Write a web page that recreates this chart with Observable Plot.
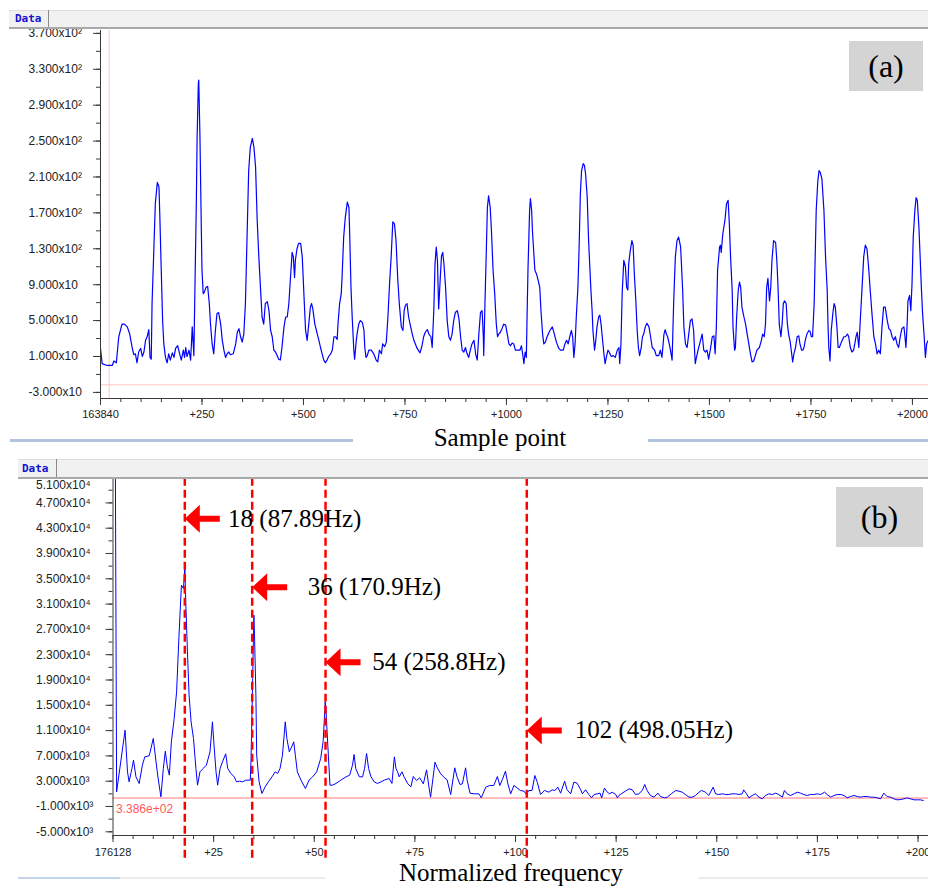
<!DOCTYPE html>
<html><head><meta charset="utf-8">
<script src="https://cdn.jsdelivr.net/npm/d3@7"></script>
<script src="https://cdn.jsdelivr.net/npm/@observablehq/plot@0.6"></script>
<style>
body{margin:0;background:#fff;}
#wrap{position:relative;width:928px;height:888px;overflow:hidden;background:#fff;}
#wrap svg{position:absolute;left:0;}
</style></head><body><div id="wrap"></div>
<script>
// ---------- Panel (a): time-domain waveform ----------
const sampleA = [0,4,16,29,33,39,45,53,59,66,72,78,82,86,90,94,99,103,107,111,115,119,122,125,127,131,135,140,144,146,149,153,156,160,164,168,172,177,181,185,190,195,199,204,207,210,213,218,222,226,230,232,236,238,241,242,245,248,250,253,256,260,264,268,271,275,279,283,287,291,296,300,304,308,312,316,320,327,333,337,341,345,349,353,357,361,365,369,374,378,382,386,390,394,398,402,406,411,415,419,423,427,431,435,439,443,447,452,456,460,464,468,472,475,478,480,484,488,493,497,501,505,
509,513,517,520,523,528,534,538,542,546,550,554,558,562,567,571,575,579,583,585,589,593,595,599,603,608,612,614,617,620,624,626,630,632,636,640,645,649,651,654,657,661,667,673,679,683,687,692,695,700,704,708,712,716,720,724,728,732,736,741,745,748,751,755,759,764,768,772,780,787,792,796,800,805,809,814,817,821,824,827,830,833,837,840,843,846,850,854,858,862,866,870,874,879,883,887,891,895,899,903,907,911,915,920,924,928,932,936,940,943,944,947,950,953,956,960,963,967,971,975,978,981,985,989,993,998,1002,1006,1010,1014,1018,1022,
1026,1033,1037,1041,1043,1046,1049,1051,1053,1057,1059,1062,1064,1067,1070,1074,1078,1082,1085,1089,1092,1096,1100,1107,1113,1118,1123,1129,1133,1140,1144,1148,1152,1156,1160,1163,1166,1169,1172,1176,1179,1182,1185,1189,1192,1195,1199,1202,1205,1208,1211,1213,1217,1220,1223,1227,1230,1233,1236,1240,1243,1246,1250,1253,1258,1263,1268,1273,1277,1279,1282,1285,1289,1293,1296,1299,1301,1305,1309,1312,1315,1319,1322,1325,1328,1332,1335,1338,1342,1346,1351,1355,1359,1365,1369,1375,1379,1383,1388,1391,1394,1397,1401,1404,1408,1412,1416,1420,1424,1429,1431,1434,1437,1441,1445,1449,1453,1457,1461,1465,1468,1472,1478,1482,1486,1490,1494,1498,1502,1507,1511,1514,1517,1520,1525,1527,
1529,1533,1538,1542,1546,1549,1552,1556,1558,1562,1564,1567,1571,1574,1577,1580,1585,1589,1593,1597,1601,1605,1609,1613,1617,1623,1628,1631,1635,1638,1641,1644,1648,1651,1654,1658,1663,1666,1669,1672,1676,1679,1682,1685,1689,1692,1695,1699,1702,1705,1708,1712,1716,1720,1723,1727,1730,1733,1736,1740,1745,1748,1751,1754,1758,1761,1763,1767,1770,1773,1777,1782,1786,1790,1792,1794,1797,1800,1804,1807,1810,1814,1817,1820,1825,1831,1835,1840,1843,1847,1851,1855,1858,1861,1864,1868,1872,1876,1880,1884,1888,1892,1896,1901,1905,1909,1913,1917,1921,1925,1929,1933,1938,1942,1946,1950,1954,1958,1962,1966,1970,1974,1979,1981,1984,1987,1989,1993,1996,1999,2002,2006,2009,2012,2016,2019,2022,2025,2029,2032,2035,2039];
const valueA = [19,2,0,0,5,3,32,46,46,43,35,20,12,13,3,15,19,10,15,28,32,40,9,7,69,124,180,204,199,169,117,50,24,9,3,13,6,14,9,19,22,13,6,17,9,20,10,17,6,43,11,69,180,254,314,318,254,162,106,80,82,87,88,69,46,24,13,39,58,59,46,28,17,9,13,15,12,13,24,37,41,32,26,35,69,143,217,243,253,243,221,162,121,87,54,46,69,71,61,39,32,17,15,11,7,6,20,43,54,54,69,98,126,121,98,117,130,136,136,121,80,40,
28,46,65,69,63,46,35,28,20,13,6,3,6,10,13,17,32,32,29,46,69,80,98,143,165,182,176,143,87,54,17,7,28,35,46,50,48,39,20,9,11,17,17,13,6,4,17,13,24,21,26,54,91,121,160,158,139,98,69,43,39,61,67,69,54,43,35,28,19,14,22,32,37,40,35,32,20,61,113,132,117,63,98,122,126,113,87,50,32,28,35,50,59,61,52,32,17,15,20,13,9,17,24,28,13,6,35,59,61,32,11,69,121,176,189,176,150,106,80,46,32,35,37,41,46,45,35,24,22,25,24,17,
17,17,22,9,2,15,9,61,106,173,186,173,150,128,106,102,95,87,61,35,24,26,32,39,43,35,26,19,17,17,24,28,24,32,39,32,9,24,54,87,132,191,217,225,223,213,187,143,113,84,61,39,17,28,43,54,56,46,32,13,2,9,17,15,10,11,9,17,20,2,24,80,117,110,87,84,113,128,139,134,102,69,39,20,11,20,32,35,43,47,43,32,20,17,11,11,17,9,35,40,35,32,24,17,6,72,121,139,143,132,113,84,43,24,20,35,50,52,39,2,9,17,28,35,17,15,17,7,17,32,33,13,43,106,132,134,
126,147,161,180,184,158,121,84,43,17,20,54,84,93,87,65,54,46,35,24,13,4,5,11,17,20,28,35,32,46,87,97,72,87,117,139,137,117,87,46,32,46,69,72,69,46,35,26,15,4,13,20,32,33,24,17,17,20,28,35,39,38,32,32,69,132,173,206,217,215,208,173,121,84,46,20,5,39,58,69,65,43,20,20,26,32,32,35,32,20,15,17,24,32,37,20,54,87,121,134,130,110,84,54,32,24,13,17,13,43,65,65,50,41,39,32,28,32,24,20,32,41,43,35,20,46,72,78,61,91,143,173,187,184,154,121,87,58,32,9,24,28];
const xTicksA = [0,250,500,750,1000,1250,1500,1750,2000];
const xTickLabelsA = ["163840","+250","+500","+750","+1000","+1250","+1500","+1750","+2000"];
const yTicksA = [370,330,290,250,210,170,130,90,50,10,-30];
const yTickLabelsA = ["3.700x10²","3.300x10²","2.900x10²","2.500x10²","2.100x10²","1.700x10²","1.300x10²","9.000x10","5.000x10","1.000x10","-3.000x10"];
const cursorSampleA = [21.4];
const cursorValueA = [-21.5];

// ---------- Panel (b): spectrum ----------
const specIdx = [0,0.9,3.0,3.6,4.0,4.7,5.1,5.7,6.5,7.3,7.9,9.0,10.0,10.5,11.1,11.9,12.5,13.0,13.5,14.0,14.5,15.2,15.8,16.4,17.0,17.5,17.85,18.1,18.5,18.9,19.4,20.0,20.6,21.0,21.6,22.4,23.2,24.1,24.7,25.1,25.6,26.0,26.6,27.2,28.0,28.5,29.3,30.1,30.7,31.4,32.2,33.0,34.1,34.3,34.7,35.0,35.2,35.5,35.7,36.3,37.0,37.8,38.6,39.5,40.3,40.9,41.5,42.1,42.8,43.2,43.8,44.4,44.9,45.3,45.8,46.7,47.8,48.7,49.6,50.6,51.6,52.2,52.6,52.7,52.9,53.1,53.5,53.9,54.5,55.4,56.6,57.9,58.8,59.5,59.9,60.3,61.2,62.0,62.5,63.0,63.5,64.1,64.9,65.7,66.6,67.4,68.6,69.3,69.9,70.3,70.7,71.1,71.8,72.3,73.2,74.0,
74.6,75.4,76.2,77.1,77.9,78.5,78.9,80.0,80.5,81.4,82.2,83.0,83.9,84.9,85.5,86.2,86.8,87.6,88.0,88.7,89.7,90.9,91.5,92.6,93.6,94.6,95.5,96.1,96.7,97.5,98.1,98.8,99.6,100.4,101.2,102.1,102.7,103.3,104.1,104.8,105.4,106.2,107.2,108.3,109.1,109.8,110.5,111.2,112.2,112.8,113.7,114.5,115.3,116.2,116.6,117.4,118.2,118.9,119.5,120.3,121.0,121.4,122.1,122.8,123.4,124.0,124.9,125.3,125.7,126.5,127.3,128.2,129.0,129.8,130.6,131.5,132.1,132.7,133.5,134.4,135.4,136.0,137.0,137.7,138.7,139.8,140.6,141.4,142.2,143.1,143.9,144.7,145.6,146.2,147.2,148.0,149.1,149.7,150.5,151.4,152.2,153.0,153.8,154.7,155.5,156.3,156.7,157.4,158.0,158.8,159.6,160.5,161.3,162.1,162.9,163.8,164.6,165.4,166.3,166.8,167.5,168.3,169.2,170.0,170.8,171.6,172.5,173.3,174.1,175.0,175.8,176.8,177.4,178.3,179.1,179.9,180.8,181.6,182.4,183.2,184.1,184.9,185.7,186.5,187.4,188.2,189.0,189.9,190.7,191.5,192.3,193.2,194.0,194.8,195.7,196.5,197.3,198.1,199.0,199.8,200.6,201.3];
const specVal = [150000,1319,11069,4481,2900,5008,6326,3690,2636,5535,6853,7011,9751,7116,3954,528,5008,7748,5271,3954,9224,12913,17129,26088,33993,33466,36892,30831,23453,16602,12386,9751,5008,2373,4481,5008,5535,7643,12386,8697,4481,2373,5008,6062,7327,5008,4217,3690,2900,3005,2900,3163,3163,6589,19237,29250,25034,16602,7116,2900,1055,2109,2900,3690,4481,4217,5008,7116,12386,9751,7643,8433,9224,7116,4481,3163,1846,3163,3690,4481,6589,9224,13967,15548,14494,11859,7116,2373,2373,2636,3163,3690,3954,5535,7221,5008,3690,3690,5008,7379,5008,3690,2900,2636,2900,3163,3427,2636,6853,5008,4481,3690,4481,3690,2636,2109,
3743,3111,3533,2584,4797,2057,476,6010,5219,4165,3638,3217,898,5114,3638,2479,2584,5114,3111,1108,1003,1003,371,2057,2320,2320,3743,2320,3217,4587,2584,1003,2320,1952,1530,1425,898,1530,1530,3902,2848,898,1530,1267,1635,1530,2057,1108,3006,1635,1003,2848,2689,1635,1003,1635,898,371,898,1003,1108,371,1899,1267,1003,1267,898,371,739,1108,1425,1794,1635,898,1003,1530,2479,1530,739,476,1108,581,371,476,1003,1530,1425,1267,898,476,476,739,1267,1530,1267,739,2057,1003,898,1003,898,898,1003,1003,898,1003,1635,1003,371,739,1003,476,213,739,1003,898,1108,898,476,1530,1003,739,1003,1267,1108,898,739,898,898,1003,898,1267,898,476,739,898,898,739,371,581,739,581,476,581,581,476,476,371,213,1108,581,476,213,54,107,213,371,213,54,54,54,-51];
const xTicksB = [0,25,50,75,100,125,150,175,200];
const xTickLabelsB = ["176128","+25","+50","+75","+100","+125","+150","+175","+200"];
const yTicksB = [51000,47000,43000,39000,35000,31000,27000,23000,19000,15000,11000,7000,3000,-1000,-5000];
const yTickLabelsB = ["5.100x10⁴","4.700x10⁴","4.300x10⁴","3.900x10⁴","3.500x10⁴","3.100x10⁴","2.700x10⁴","2.300x10⁴","1.900x10⁴","1.500x10⁴","1.100x10⁴","7.000x10³","3.000x10³","-1.000x10³","-5.000x10³"];
const refLevelB = [338.6];
const refLabelB = ["3.386e+02"];

// harmonic annotations
const peakLabels = ["18 (87.89Hz)","36 (170.9Hz)","54 (258.8Hz)","102 (498.05Hz)"];
const markerX = [17.84,34.58,52.8,102.8];
const arrowY = [44486,33671,21814,11016];
const labelX = [28.6,48.4,64.4,114.7];

// ---------- build ----------
const A = sampleA.map((s,i)=>({s, v: valueA[i]}));
const B = specIdx.map((x,i)=>({x, v: specVal[i]}));
const ann = peakLabels.map((t,i)=>({t, x: markerX[i], y: arrowY[i], lx: labelX[i]}));

const axisColor = "#3a3a3a";
const tickFont = "'Liberation Sans', Arial, sans-serif";
const baseStyle = {fontFamily: tickFont, fontSize: "12px", background: "transparent", overflow: "visible", color: "#222"};

const yDomA = [-36.8, 373.2];
const plotA = Plot.plot({
  width: 928, height: 425,
  marginLeft: 100, marginRight: 0, marginTop: 30, marginBottom: 27,
  x: {domain: [0, 2039.6], axis: null},
  y: {domain: yDomA, axis: null},
  style: baseStyle,
  marks: [
    Plot.ruleY(cursorValueA, {stroke: "#ffc6c6", strokeWidth: 1}),
    Plot.ruleX(cursorSampleA, {stroke: "#ffc6c6", strokeWidth: 1}),
    Plot.line(A, {x: "s", y: "v", stroke: "#0000ff", strokeWidth: 1.2, clip: true}),
    Plot.ruleX([0], {stroke: axisColor}),
    Plot.ruleY([yDomA[0]], {stroke: axisColor}),
    Plot.axisX({ticks: d3.range(0, 2040, 50), tickSize: 4, tickFormat: () => "", label: null, stroke: axisColor}),
    Plot.axisX({ticks: xTicksA, tickSize: 7, tickPadding: 5, label: null, stroke: axisColor, fontSize: 11,
      tickFormat: d => xTickLabelsA[xTicksA.indexOf(d)]}),
    Plot.axisY({ticks: d3.range(-30, 371, 20), tickSize: 4, tickFormat: () => "", label: null, stroke: axisColor}),
    Plot.axisY({ticks: yTicksA, tickSize: 7, tickFormat: () => "", label: null, stroke: axisColor}),
    Plot.text(yTicksA, {y: d => d, text: (d,i) => yTickLabelsA[i], frameAnchor: "left", dx: -72, textAnchor: "start", fontSize: 12, fill: "#222"})
  ]
});
plotA.style.top = "0px";

const yDomB = [-5585, 50857];
const arrowSymbol = {
  draw(ctx) {
    ctx.moveTo(0, 0);
    ctx.lineTo(15, -14);
    ctx.lineTo(15, -3);
    ctx.lineTo(35, -3);
    ctx.lineTo(35, 3);
    ctx.lineTo(15, 3);
    ctx.lineTo(15, 14);
    ctx.closePath();
  }
};
const plotB = Plot.plot({
  width: 928, height: 433,
  marginLeft: 112.5, marginRight: 0, marginTop: 23, marginBottom: 53,
  x: {domain: [0, 202.6], axis: null},
  y: {domain: yDomB, axis: null},
  style: baseStyle,
  marks: [
    Plot.ruleY(refLevelB, {stroke: "#ff7a7a", strokeWidth: 1}),
    Plot.text(refLabelB, {text: d => d, y: refLevelB[0], frameAnchor: "left", dx: 3, dy: 11, textAnchor: "start", fill: "#ff5a5a", fontSize: 12}),
    Plot.line(B, {x: "x", y: "v", stroke: "#0000ff", strokeWidth: 1, clip: true}),
    Plot.ruleX([0], {stroke: axisColor}),
    Plot.ruleY([yDomB[0]], {stroke: axisColor}),
    Plot.axisX({ticks: d3.range(0, 203, 5), tickSize: 4, tickFormat: () => "", label: null, stroke: axisColor}),
    Plot.axisX({ticks: xTicksB, tickSize: 7, tickPadding: 6, label: null, stroke: axisColor, fontSize: 11,
      tickFormat: d => xTickLabelsB[xTicksB.indexOf(d)]}),
    Plot.axisY({ticks: d3.range(-5000, 51001, 2000), tickSize: 4, tickFormat: () => "", label: null, stroke: axisColor}),
    Plot.axisY({ticks: yTicksB, tickSize: 7, tickFormat: () => "", label: null, stroke: axisColor}),
    Plot.text(yTicksB.slice(1), {y: d => d, text: (d,i) => yTickLabelsB[i+1], frameAnchor: "left", dx: -77, textAnchor: "start", fontSize: 12, fill: "#222"}),
    Plot.text(yTicksB.slice(0,1), {y: d => d, text: () => yTickLabelsB[0], frameAnchor: "left", dx: -77, dy: 8, textAnchor: "start", fontSize: 12, fill: "#222"}),
    Plot.ruleX(ann, {x: "x", y1: -9200, y2: yDomB[1], stroke: "#ff0000", strokeWidth: 2.5, strokeDasharray: "8,4"}),
    Plot.dot(ann, {x: "x", y: "y", symbol: arrowSymbol, fill: "#ff0000", stroke: "none", r: 5}),
    Plot.text(ann, {x: "lx", y: "y", text: "t", textAnchor: "start", fontFamily: "'Liberation Serif', 'Times New Roman', serif", fontSize: 25, fill: "#000"})
  ]
});
plotB.style.top = "455px";

const wrap = document.getElementById("wrap");
wrap.appendChild(plotA);
wrap.appendChild(plotB);

function box(css, text) {
  const d = document.createElement("div");
  d.style.cssText = "position:absolute;" + css;
  if (text) d.textContent = text;
  wrap.appendChild(d);
  return d;
}
// tab bars
box("left:9px;top:10px;width:919px;height:16px;background:#f1f1f1;border-top:1px solid #dddddd;border-bottom:2px solid #a9a9a9;");
box("left:48px;top:10px;width:1px;height:17px;background:#8a8a8a;");
box("left:15px;top:12px;font:bold 11px 'DejaVu Sans Mono',monospace;color:#1414d2;line-height:13px;", "Data");
box("left:18px;top:459px;width:910px;height:17px;background:#f1f1f1;border-top:1px solid #dddddd;border-bottom:2px solid #a9a9a9;");
box("left:56px;top:459px;width:1px;height:18px;background:#8a8a8a;");
box("left:22px;top:462px;font:bold 11px 'DejaVu Sans Mono',monospace;color:#1414d2;line-height:13px;", "Data");
// panel tags
box("left:849px;top:41px;width:74px;height:50px;background:#d4d4d4;text-align:center;font:32px 'Liberation Serif',serif;line-height:50px;color:#000;", "(a)");
box("left:836px;top:487px;width:87px;height:60px;background:#d4d4d4;text-align:center;font:32px 'Liberation Serif',serif;line-height:60px;color:#000;", "(b)");
// axis titles and separators
box("left:10px;top:439px;width:343px;height:3px;background:#b0c4de;");
box("left:648px;top:439px;width:280px;height:3px;background:#b0c4de;");
box("left:380px;top:424px;width:240px;text-align:center;font:25px 'Liberation Serif',serif;line-height:28px;color:#000;", "Sample point");
box("left:18px;top:877px;width:102px;height:2px;background:#c4d4ee;");
box("left:120px;top:877px;width:205px;height:2px;background:#ececec;");
box("left:698px;top:877px;width:230px;height:2px;background:#ececec;");
box("left:341px;top:859px;width:340px;text-align:center;font:25px 'Liberation Serif',serif;line-height:28px;color:#000;", "Normalized frequency");
</script>
</body></html>
